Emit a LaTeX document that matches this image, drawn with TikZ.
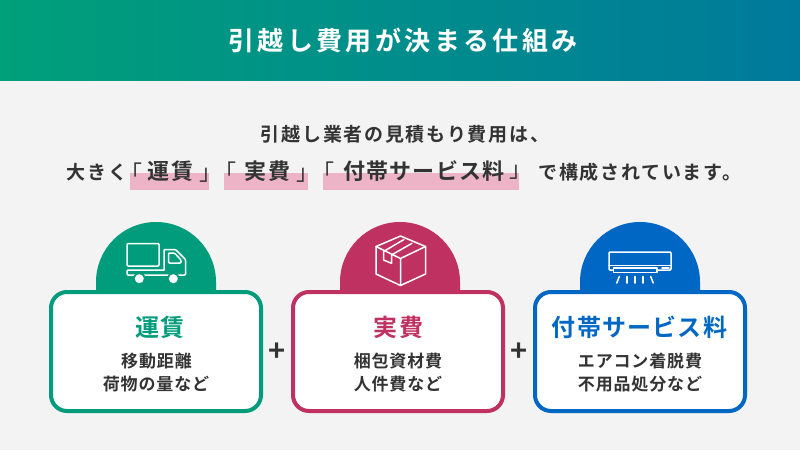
\documentclass[tikz,border=0pt]{standalone}
\usepackage{fontspec}
\setmainfont{Noto Sans CJK JP}[BoldFont={Noto Sans CJK JP Bold}]
\newcommand{\fs}[2]{\addfontfeature{LetterSpace=#2}\fontsize{#1}{#1}\selectfont}
\definecolor{pgreen}{HTML}{009C7B}
\definecolor{pred}{HTML}{BE3160}
\definecolor{pblue}{HTML}{0068C4}
\definecolor{bgc}{HTML}{F3F3F3}
\definecolor{ink}{HTML}{333333}
\definecolor{pinkbar}{HTML}{EDB4C8}
\definecolor{hl}{HTML}{00A07A}
\definecolor{hr}{HTML}{007A9C}
\tikzset{
  x=1pt,y=-1pt,
  lead/.style={inner sep=0,text=ink,font=\bfseries\fs{19}{9}},
  key/.style={inner sep=0,text=ink,font=\bfseries\fs{22}{5}},
  brk/.style={inner sep=0,text=ink,font=\fs{22}{0}},
  bar/.style={fill=pinkbar,draw=none},
  card/.style={draw=#1,fill=white,line width=4pt,rounded corners=16pt},
  dome/.style={fill=#1,draw=none},
  ctitle/.style={inner sep=0,text=#1,font=\bfseries\fs{24}{5}},
  cbody/.style={inner sep=0,text=ink,align=center,font=\bfseries\fs{17}{5}},
  plusm/.style={inner sep=0,text=ink,font=\bfseries\fontsize{29}{29}\selectfont},
  icon/.style={draw=white,line width=1.5pt,line join=round,line cap=round},
}
\begin{document}
\begin{tikzpicture}
\useasboundingbox (0,0) rectangle (800,450);
\fill[bgc] (0,0) rectangle (800,450);
\shade[left color=hl,right color=hr] (0,0) rectangle (800,80);
\node[inner sep=0,text=white,font=\bfseries\fs{26}{13}] (title) at (403,40) {引越し費用が決まる仕組み};
\node[lead] (l1) at (405,134) {引越し業者の見積もり費用は、};
\fill[bar] (130,173) rectangle (209,190);
\fill[bar] (224,173) rectangle (308,190);
\fill[bar] (323,173) rectangle (519,190);
\node[lead] (a) at (97,172) {大きく};
\node[brk] (b1) at (131,172) {「};
\node[key] (b2) at (170.5,171) {運賃};
\node[brk] (bc) at (217.75,172) {」\hspace{-7.5pt}「};
\node[key] (c2) at (267.5,171) {実費};
\node[brk] (cd) at (315,172) {」\hspace{-6pt}「};
\node[key] (d2) at (424,171) {付帯サービス料};
\node[brk] (d3) at (520,172) {」};
\node[lead] (e) at (640,172) {で構成されています。};
% domes
\fill[dome=pgreen] (96,292) -- (96,282) arc[start angle=180,end angle=360,radius=60] -- (216,292) -- cycle;
\fill[dome=pred] (340,292) -- (340,282) arc[start angle=180,end angle=360,radius=60] -- (460,292) -- cycle;
\fill[dome=pblue] (580,292) -- (580,282) arc[start angle=180,end angle=360,radius=60] -- (700,292) -- cycle;
% cards
\draw[card=pgreen] (51,292) rectangle (261,411);
\draw[card=pred] (293,292) rectangle (503,411);
\draw[card=pblue] (535,292) rectangle (745,411);
\node[ctitle=pgreen] (t1) at (160,327) {運賃};
\node[ctitle=pred] (t2) at (398.5,327) {実費};
\node[ctitle=pblue] (t3) at (639.5,327) {付帯サービス料};
\node[cbody] (s1a) at (156.5,361) {移動距離};
\node[cbody] (s1b) at (156,384) {荷物の量など};
\node[cbody] (s2a) at (398,361) {梱包資材費};
\node[cbody] (s2b) at (398,384) {人件費など};
\node[cbody] (s3a) at (640,361) {エアコン着脱費};
\node[cbody] (s3b) at (640,384) {不用品処分など};
\node[plusm] (p1) at (277.5,352) {+};
\node[plusm] (p2) at (519.5,352) {+};
% truck
\draw[icon,rounded corners=1pt] (127,243.5) rectangle (159,266);
\draw[icon,rounded corners=1pt] (164,269.5) -- (164,249.5) -- (175.5,249.5) -- (185.5,259.5) -- (185.5,275) -- (127,275) -- (127,270) -- (164,270);
\draw[icon,rounded corners=1pt] (168.5,253) -- (174.5,253) -- (181,260) -- (181,263) -- (168.5,263) -- cycle;
\fill[pgreen] (139.3,278.7) circle[radius=6.3];
\fill[pgreen] (173.3,278.7) circle[radius=6.3];
\fill[white] (139.3,278.7) circle[radius=4.5];
\fill[white] (173.3,278.7) circle[radius=4.5];
% box
\draw[icon] (400.5,236) -- (425.5,246.5) -- (425.5,274) -- (400.5,285.5) -- (376,274) -- (376,246.5) -- cycle;
\draw[icon] (376,246.5) -- (400.5,258.5) -- (425.5,246.5) (400.5,258.5) -- (400.5,285.5);
\draw[icon] (383.5,251.5) -- (383.5,260) -- (391.5,263.3) -- (391.5,255) -- (412,243.3) (383.5,251.5) -- (404,239.5);
% aircon
\draw[icon,rounded corners=1pt] (609,252) rectangle (671,270);
\draw[icon] (609,265.5) -- (671,265.5);
\fill[pblue] (610,266.3) rectangle (670,269.4);
\draw[icon,fill=pblue] (613.5,268) rectangle (657,272.5);
\draw[icon] (662,268) -- (669,268);
\draw[icon] (616.8,283) -- (619.3,276.5);
\draw[icon] (627,283) -- (627,276.5);
\draw[icon] (635,283) -- (635,276.5);
\draw[icon] (643,283) -- (643,276.5);
\draw[icon] (653.2,283) -- (650.7,276.5);
\end{tikzpicture}
\end{document}
